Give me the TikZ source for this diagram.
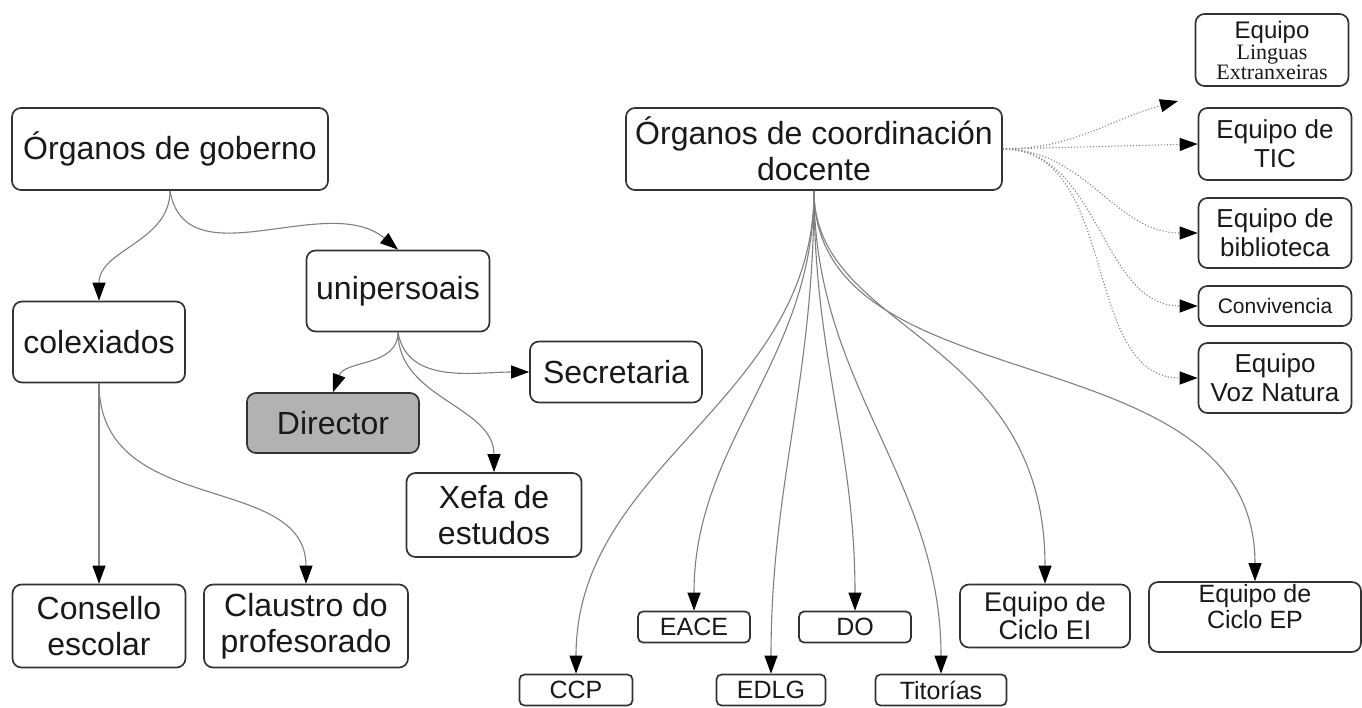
\documentclass[tikz,border=0pt]{standalone}
\usepackage{fontspec}
\setmainfont{Liberation Sans}
\newfontfamily\lingfont{Liberation Serif}
\usetikzlibrary{arrows.meta,positioning}

\begin{document}
\begin{tikzpicture}[
    x=1pt, y=1pt,
    box/.style={draw=black!80, line width=1.7pt, rounded corners=9pt, fill=white, align=center, inner sep=2pt, text=black!90, font=\fontsize{32}{36}\selectfont},
    chief/.style={box, fill=black!30},
    smallbox/.style={box, rounded corners=5pt, minimum height=31pt, font=\fontsize{25}{28}\selectfont},
    team/.style={box, minimum width=153pt, font=\fontsize{26}{29}\selectfont},
    link/.style={draw=black!50, line width=1.1pt, -{Triangle[length=18pt,width=13pt,color=black]}},
    dotlink/.style={link, draw=black!50, dotted}
]
\useasboundingbox (0,0) rectangle (1362,-708);

% Organos de goberno
\node[box, minimum width=316pt, minimum height=82pt] (gob) at (170,-149) {Órganos de goberno};
\node[box, minimum width=172pt, minimum height=81pt] (colex) at (99,-342) {colexiados};
\node[box, minimum width=183pt, minimum height=81pt] (unip) at (398,-291) {unipersoais};
\node[box, minimum width=172pt, minimum height=61pt] (secret) at (616,-372) {Secretaria};
\node[chief, minimum width=172pt, minimum height=60pt] (director) at (333,-423) {Director};
\node[box, minimum width=175pt, minimum height=84pt] (xefa) at (494,-515) {Xefa de\\estudos};
\node[box, minimum width=173pt, minimum height=83pt] (consello) at (99,-626) {Consello\\escolar};
\node[box, minimum width=204pt, minimum height=83pt] (claustro) at (306,-626) {Claustro do\\profesorado};

% Organos de coordinacion docente
\node[box, minimum width=376pt, minimum height=82pt] (coord) at (814,-149) {Órganos de coordinación\\docente};

% Equipos (right column)
\node[team, minimum height=72pt] (ling) at (1272,-50) {{\fontsize{24}{26}\selectfont Equipo}\\[-8pt]{\lingfont\fontsize{22}{20}\selectfont Linguas}\\[-9pt]{\lingfont\fontsize{22}{20}\selectfont Extranxeiras}};
\node[team, minimum height=72pt] (tic) at (1275,-144) {Equipo de\\TIC};
\node[team, minimum height=70pt] (bib) at (1275,-233) {Equipo de\\biblioteca};
\node[team, minimum height=40pt, font=\fontsize{21}{24}\selectfont] (conv) at (1275,-306) {Convivencia};
\node[team, minimum height=70pt] (voz) at (1275,-378) {Equipo\\Voz Natura};
\coordinate (lingend) at (1178,-101);

% Bottom row
\node[smallbox, minimum width=113pt] (ccp) at (576,-690) {CCP};
\node[smallbox, minimum width=112pt] (eace) at (694,-627) {EACE};
\node[smallbox, minimum width=109pt] (edlg) at (771,-690) {EDLG};
\node[smallbox, minimum width=112pt] (do) at (855,-627) {DO};
\node[smallbox, minimum width=131pt] (tit) at (941,-690) {Titorías};
\node[box, minimum width=170pt, minimum height=63pt, font=\fontsize{27}{28}\selectfont] (cicloei) at (1045,-616) {Equipo de\\Ciclo EI};
\node[box, minimum width=212pt, minimum height=62pt, font=\fontsize{25}{26}\selectfont] (cicloep) at (1255,-617) {Equipo de\\Ciclo EP\\[-12pt]\strut};

% Arrows
\draw[link] (gob.south) to[out=-90,in=90] (colex.north);
\draw[link] (gob.south) to[out=-80,in=140] (unip.north);
\draw[link] (colex.south) -- (consello.north);
\draw[link] (colex.south) to[out=-90,in=90,out looseness=1.2] (claustro.north);
\draw[link] (unip.south) to[out=-90,in=70] (director.north);
\draw[link] (unip.south) to[out=-80,in=180] (secret.west);
\draw[link] (unip.south) to[out=-90,in=90] (xefa.north);
\draw[link] (coord.south) to[out=-90,in=90] (ccp.north);
\draw[link] (coord.south) to[out=-90,in=90] (eace.north);
\draw[link] (coord.south) to[out=-90,in=90] (edlg.north);
\draw[link] (coord.south) to[out=-90,in=90] (do.north);
\draw[link] (coord.south) to[out=-90,in=90] (tit.north);
\draw[link] (coord.south) to[out=-90,in=90,out looseness=0.8,in looseness=1.4] (cicloei.north);
\draw[link] (coord.south) to[out=-90,in=90,out looseness=0.95,in looseness=1.1] (cicloep.north);
\draw[dotlink] (coord.east) to[out=0,in=195] (lingend);
\draw[dotlink] (coord.east) -- (tic.west);
\draw[dotlink] (coord.east) to[out=0,in=180] (bib.west);
\draw[dotlink] (coord.east) to[out=0,in=180] (conv.west);
\draw[dotlink] (coord.east) to[out=0,in=180] (voz.west);

\end{tikzpicture}
\end{document}
